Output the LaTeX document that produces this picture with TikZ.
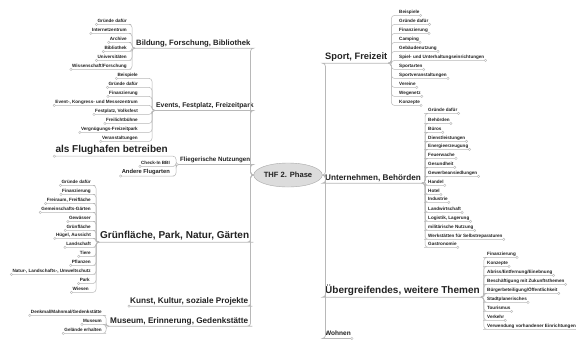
\documentclass[tikz,border=0pt]{standalone}
\usepackage{fontspec}
\setmainfont{Liberation Sans}
\usetikzlibrary{shapes.geometric}
\definecolor{linegray}{HTML}{B8B8B8}
\definecolor{txtcol}{HTML}{222222}
\definecolor{hubfill}{HTML}{DCDCDC}
\definecolor{hubdraw}{HTML}{A8A8A8}
\tikzset{
  branch/.style={draw=linegray, line width=0.5pt, rounded corners=3pt},
  trunk/.style={branch, line width=0.7pt},
  knob/.style={draw=linegray, fill=white, line width=0.4pt},
  topic/.style={inner xsep=1pt, inner ysep=1pt, text=txtcol},
  leaf/.style={topic, inner ysep=0.9pt, text height=3.4pt, text depth=1.2pt,
    font=\fontsize{4.6}{5}\selectfont\bfseries},
  leafL/.style={leaf, anchor=east},
  leafR/.style={leaf, anchor=west},
  bigtopic/.style={topic, text height=7.5pt, text depth=2.5pt,
    font=\fontsize{10}{12}\selectfont\bfseries},
  midtopic/.style={topic, text height=6pt, text depth=2pt,
    font=\fontsize{8.2}{10}\selectfont\bfseries},
  smalltopic/.style={topic, text height=4.9pt, text depth=1.6pt,
    font=\fontsize{6.5}{8}\selectfont\bfseries},
}
\begin{document}
\begin{tikzpicture}[x=1pt,y=-1pt]
\fill[white] (0,0) rectangle (576,341);
\useasboundingbox (0,0) rectangle (576,341);
% Central topic
\node[ellipse, draw=hubdraw, fill=hubfill, minimum width=59pt, minimum height=24pt,
  inner sep=0pt, text=txtcol, font=\fontsize{7.6}{9}\selectfont\bfseries] (thf) at (288,175) {THF 2. Phase};
% Main topics, left side
\node[midtopic, anchor=west, font=\fontsize{7.7}{9}\selectfont\bfseries] (bild) at (135,43) {Bildung, Forschung, Bibliothek};
\node[smalltopic, anchor=west, font=\fontsize{6.8}{8}\selectfont\bfseries] (evt) at (155,106) {Events, Festplatz, Freizeitpark};
\node[smalltopic, anchor=west, font=\fontsize{6.2}{8}\selectfont\bfseries] (flieg) at (179,160) {Fliegerische Nutzungen};
\node[bigtopic, anchor=west] (gruen) at (99,236) {Grünfläche, Park, Natur, Gärten};
\node[midtopic, anchor=west] (kunst) at (129,301) {Kunst, Kultur, soziale Projekte};
\node[midtopic, anchor=west] (mus) at (109,321) {Museum, Erinnerung, Gedenkstätte};
% Main topics, right side
\node[bigtopic, anchor=west, font=\fontsize{9.3}{11}\selectfont\bfseries] (sport) at (324,57) {Sport, Freizeit};
\node[midtopic, anchor=west] (untern) at (324,178) {Unternehmen, Behörden};
\node[bigtopic, anchor=west] (ueber) at (324,291) {Übergreifendes, weitere Themen};
\node[smalltopic, anchor=west] (wohnen) at (324,334) {Wohnen};
% Sub topics: Bildung, Forschung, Bibliothek
\node[leafL] (bild1) at (128,21) {Gründe dafür};
\node[leafL] (bild2) at (128,30) {Internetzentrum};
\node[leafL] (bild3) at (128,39) {Archive};
\node[leafL] (bild4) at (128,48) {Bibliothek};
\node[leafL] (bild5) at (128,57) {Universitäten};
\node[leafL] (bild6) at (128,66) {Wissenschaft/Forschung};
% Sub topics: Events, Festplatz, Freizeitpark
\node[leafL] (evt1) at (139,75) {Beispiele};
\node[leafL] (evt2) at (139,84) {Gründe dafür};
\node[leafL] (evt3) at (139,93) {Finanzierung};
\node[leafL] (evt4) at (139,102) {Event-, Kongress- und Messezentrum};
\node[leafL] (evt5) at (139,111) {Festplatz, Volksfest};
\node[leafL] (evt6) at (139,120) {Freilichtbühne};
\node[leafL] (evt7) at (139,129) {Vergnügungs-Freizeitpark};
\node[leafL] (evt8) at (139,138) {Veranstaltungen};
% Sub topics: Fliegerische Nutzungen
\node[bigtopic, anchor=east] (flieg1) at (169,150) {als Flughafen betreiben};
\node[leafL] (flieg2) at (171,163) {Check-In BBI};
\node[leafL, text height=4.3pt, text depth=1.5pt, font=\fontsize{5.8}{7}\selectfont\bfseries] (flieg3) at (171,172) {Andere Flugarten};
% Sub topics: Grünfläche, Park, Natur, Gärten
\node[leafL] (gruen1) at (92,182) {Gründe dafür};
\node[leafL] (gruen2) at (92,191) {Finanzierung};
\node[leafL] (gruen3) at (92,200) {Freiraum, Freifläche};
\node[leafL] (gruen4) at (92,209) {Gemeinschafts-Gärten};
\node[leafL] (gruen5) at (92,218) {Gewässer};
\node[leafL] (gruen6) at (92,227) {Grünfläche};
\node[leafL] (gruen7) at (92,235) {Hügel, Aussicht};
\node[leafL] (gruen8) at (92,244) {Landschaft};
\node[leafL] (gruen9) at (92,253) {Tiere};
\node[leafL] (gruen10) at (92,262) {Pflanzen};
\node[leafL] (gruen11) at (92,271) {Natur-, Landschafts-, Umweltschutz};
\node[leafL] (gruen12) at (91,280) {Park};
\node[leafL] (gruen13) at (90,289) {Wiesen};
% Sub topics: Museum, Erinnerung, Gedenkstätte
\node[leafL] (mus1) at (103,312) {Denkmal/Mahnmal/Gedenkstätte};
\node[leafL] (mus2) at (103,321) {Museum};
\node[leafL] (mus3) at (103,330) {Gelände erhalten};
% Sub topics: Sport, Freizeit
\node[leafR] (sport1) at (398,12) {Beispiele};
\node[leafR] (sport2) at (398,21) {Gründe dafür};
\node[leafR] (sport3) at (398,30) {Finanzierung};
\node[leafR] (sport4) at (398,39) {Camping};
\node[leafR] (sport5) at (398,48) {Gebäudenutzung};
\node[leafR] (sport6) at (398,57) {Spiel- und Unterhaltungseinrichtungen};
\node[leafR] (sport7) at (398,66) {Sportarten};
\node[leafR] (sport8) at (398,75) {Sportveranstaltungen};
\node[leafR] (sport9) at (398,84) {Vereine};
\node[leafR] (sport10) at (398,93) {Wegenetz};
\node[leafR] (sport11) at (398,102) {Konzepte};
% Sub topics: Unternehmen, Behörden
\node[leafR] (untern1) at (427,110) {Gründe dafür};
\node[leafR] (untern2) at (427,120) {Behörden};
\node[leafR] (untern3) at (427,129) {Büros};
\node[leafR] (untern4) at (427,138) {Dienstleistungen};
\node[leafR] (untern5) at (427,146) {Energieerzeugung};
\node[leafR] (untern6) at (427,155) {Feuerwache};
\node[leafR] (untern7) at (427,164) {Gesundheit};
\node[leafR] (untern8) at (427,173) {Gewerbeansiedlungen};
\node[leafR] (untern9) at (427,182) {Handel};
\node[leafR] (untern10) at (427,191) {Hotel};
\node[leafR] (untern11) at (427,199) {Industrie};
\node[leafR] (untern12) at (427,209) {Landwirtschaft};
\node[leafR] (untern13) at (427,218) {Logistik, Lagerung};
\node[leafR] (untern14) at (427,227) {militärische Nutzung};
\node[leafR] (untern15) at (427,236) {Werkstätten für Selbstreparaturen};
\node[leafR] (untern16) at (427,244) {Gastronomie};
% Sub topics: Übergreifendes, weitere Themen
\node[leafR] (ueber1) at (486,254) {Finanzierung};
\node[leafR] (ueber2) at (486,263) {Konzepte};
\node[leafR] (ueber3) at (486,272) {Abriss/Entfernung/Einebnung};
\node[leafR] (ueber4) at (486,281) {Beschäftigung mit Zukunftsthemen};
\node[leafR] (ueber5) at (486,290) {Bürgerbeteiligung/Öffentlichkeit};
\node[leafR] (ueber6) at (486,299) {Stadtplanerisches};
\node[leafR] (ueber7) at (486,308) {Tourismus};
\node[leafR] (ueber8) at (486,317) {Verkehr};
\node[leafR] (ueber9) at (486,326) {Verwendung vorhandener Einrichtungen};
% Connectors from the central topic
\foreach \n in {bild,evt,flieg,gruen,kunst,mus}
  \draw[trunk] (thf.west) -- ++(-3,0) |- (\n.south east) -- (\n.south west);
\foreach \n in {sport,untern,ueber,wohnen}
  \draw[trunk] (thf.east) -- ++(3,0) |- (\n.south west) -- (\n.south east);
% Connectors to the sub topics, left side
\foreach \n/\k in {bild/6,evt/8,flieg/3,gruen/13,mus/3}
  \foreach \i in {1,...,\k}
    \draw[branch] (\n.south west) -- ++(-3,0) |- (\n\i.south east) -- (\n\i.south west);
% Connectors to the sub topics, right side
\foreach \n/\k in {sport/11,untern/16,ueber/9}
  \foreach \i in {1,...,\k}
    \draw[branch] (\n.south east) -- ++(3,0) |- (\n\i.south west) -- (\n\i.south east);
% End knobs
\foreach \n/\k in {bild/6,evt/8,flieg/3,gruen/13,mus/3}
  \foreach \i in {1,...,\k}
    \draw[knob] (\n\i.south west) circle (1.2pt);
\foreach \n/\k in {sport/11,untern/16,ueber/9}
  \foreach \i in {1,...,\k}
    \draw[knob] (\n\i.south east) circle (1.2pt);
\draw[knob] (kunst.south west) circle (1.2pt);
\draw[knob] (wohnen.south east) circle (1.2pt);
\end{tikzpicture}
\end{document}
